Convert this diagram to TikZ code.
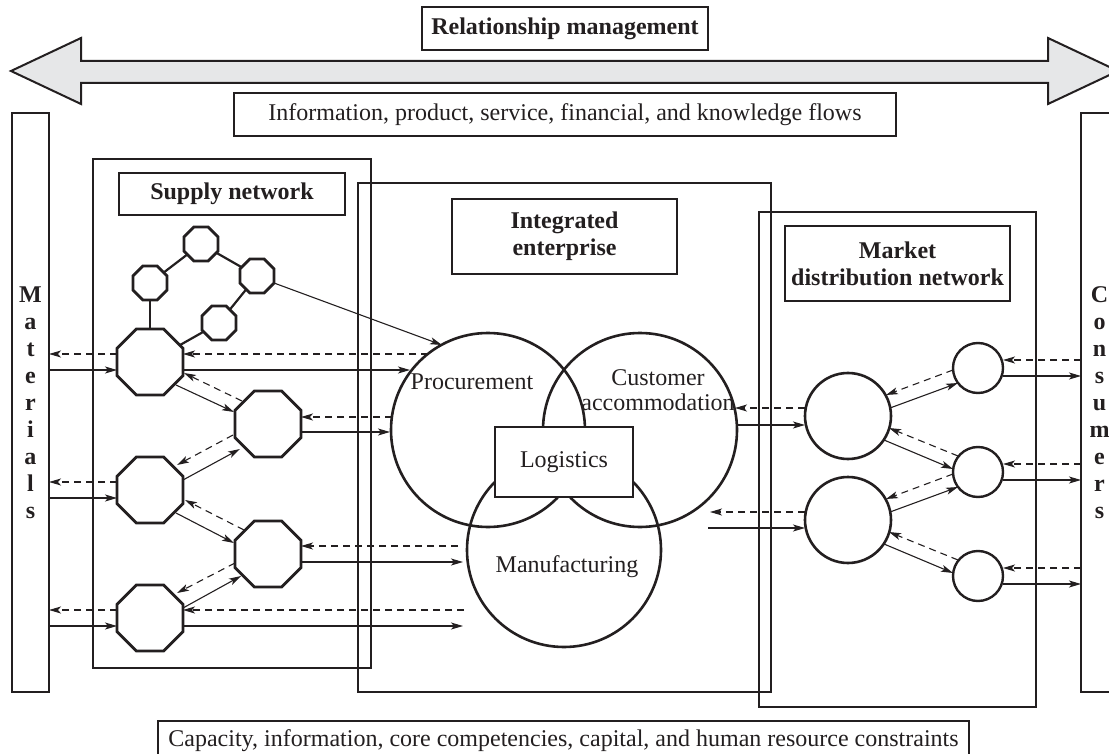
\documentclass[tikz,border=0pt]{standalone}
\usepackage{fontspec}
\setmainfont{Liberation Serif}
\usetikzlibrary{arrows.meta,calc,shapes.geometric}
\definecolor{ink}{HTML}{231F20}
\definecolor{band}{HTML}{E6E7E8}
\begin{document}
\begin{tikzpicture}[x=1pt,y=-1pt,
  every node/.style={text=ink},
  frame/.style={draw=ink, line width=2.6pt, inner sep=0pt, outer sep=0pt},
  lbl/.style={frame, fill=white, font=\fontsize{24}{27}\selectfont\bfseries, align=center},
  txtbox/.style={frame, fill=white, font=\fontsize{24}{27}\selectfont, align=center},
  plain/.style={font=\fontsize{24}{25}\selectfont, align=center, inner sep=0pt},
  ring/.style={circle, draw=ink, line width=2.6pt, inner sep=0pt, outer sep=0pt},
  oct/.style={regular polygon, regular polygon sides=8, draw=ink, line width=2.8pt, fill=white, inner sep=0pt, outer sep=0pt},
  bigoct/.style={oct, minimum size=71.4pt},
  smalloct/.style={oct, minimum size=36.8pt},
  link/.style={draw=ink, line width=2.2pt},
  sol/.style={draw=ink, line width=1.1pt, -{Stealth[length=12pt,width=7pt,inset=3pt]}},
  dsh/.style={sol, dash pattern=on 7pt off 5pt},
]
\useasboundingbox (0,0) rectangle (1109,754);
\clip (0,0) rectangle (1109,754);

% big double arrow
\draw[draw=ink, fill=band, line width=2pt, line join=miter]
  (11,71) -- (81,38) -- (81,61) -- (1048,61) -- (1048,38) -- (1118,71)
  -- (1048,104) -- (1048,83) -- (81,83) -- (81,104) -- cycle;

% top and bottom labels
\node[lbl, minimum width=286pt, minimum height=43pt] (rel) at (565,28.5) {Relationship management};
\node[txtbox, minimum width=662pt, minimum height=43pt] (flows) at (565,114.5) {Information, product, service, financial, and knowledge flows};
\node[txtbox, minimum width=811pt, minimum height=39pt] (constr) at (563.5,740.5) {Capacity, information, core competencies, capital, and human resource constraints};

% side bars
\node[lbl, fill=none, minimum width=37pt, minimum height=579pt] (mat) at (30.5,402.5) {M\\a\\t\\e\\r\\i\\a\\l\\s};
\node[lbl, fill=none, minimum width=37pt, minimum height=579pt] (con) at (1099.5,402.5) {C\\o\\n\\s\\u\\m\\e\\r\\s};

% regions
\node[frame, minimum width=278pt, minimum height=509pt] (sup) at (232,413.5) {};
\node[frame, minimum width=413pt, minimum height=509pt] (ent) at (564.5,437.5) {};
\node[frame, minimum width=277pt, minimum height=495pt] (mkt) at (897.5,459.5) {};

\node[lbl, minimum width=226pt, minimum height=42pt] (supl) at (232,194) {Supply network};
\node[lbl, minimum width=225pt, minimum height=75pt] (entl) at (564.5,236.5) {Integrated\\enterprise};
\node[lbl, minimum width=225pt, minimum height=75pt] (mktl) at (897.5,263.5) {Market\\distribution network};

% integrated enterprise circles
\node[ring, minimum size=194pt] (proc) at (488,430) {};
\node[ring, minimum size=194pt] (cust) at (640,430) {};
\node[ring, minimum size=194pt] (manu) at (564,550) {};
\node[plain] (procl) at (472,382) {Procurement};
\node[plain] (custl) at (658,390) {Customer\\accommodation};
\node[plain] (manul) at (567,567) {Manufacturing};
\node[txtbox, minimum width=138pt, minimum height=70pt] (log) at (564,462) {Logistics};

% supply network octagons
\node[smalloct] (Oa) at (201,244) {};
\node[smalloct] (Ob) at (150,283) {};
\node[smalloct] (Oc) at (257,276) {};
\node[smalloct] (Od) at (219,323) {};
\node[bigoct] (L1) at (150,362) {};
\node[bigoct] (L2) at (268,424) {};
\node[bigoct] (L3) at (150,490) {};
\node[bigoct] (L4) at (268,554) {};
\node[bigoct] (L5) at (150,618) {};

\draw[link] (Ob) -- (Oa);
\draw[link] (Oa) -- (Oc);
\draw[link] (Oc) -- (Od);
\draw[link] (Ob) -- (L1);
\draw[link] (Od) -- (L1);

% market circles
\node[ring, minimum size=86pt] (M1) at (848,416) {};
\node[ring, minimum size=86pt] (M2) at (848,520) {};
\node[ring, line width=2.4pt, minimum size=50pt] (S1) at (978,368) {};
\node[ring, line width=2.4pt, minimum size=50pt] (S2) at (978,472) {};
\node[ring, line width=2.4pt, minimum size=50pt] (S3) at (978,576) {};

% free ends
\coordinate (pc0) at (442,345);
\coordinate (pc1) at (428,354);
\coordinate (pc2) at (410,370);
\coordinate (pc3) at (392,417);
\coordinate (pc4) at (390,432);
\coordinate (mf1) at (458,546);
\coordinate (mf2) at (463,562);
\coordinate (mf3) at (464,610);
\coordinate (mf4) at (463,626);
\coordinate (cu1) at (735,408);
\coordinate (cu2) at (737,425);
\coordinate (cu3) at (710,512);
\coordinate (cu4) at (708,528);

% supply side arrows
\draw[sol] (Oc.east |- 0,283) -- (pc0);
\draw[dsh] (L1.west |- 0,354) -- (mat.east |- 0,354);
\draw[sol] (mat.east |- 0,370) -- (L1.west |- 0,370);
\draw[dsh] (pc1) -- (L1.east |- 0,354);
\draw[sol] (L1.east |- 0,370) -- (pc2);
\draw[dsh] (pc3) -- (L2.east |- 0,417);
\draw[sol] (L2.east |- 0,432) -- (pc4);
\draw[dsh] (L3.west |- 0,482) -- (mat.east |- 0,482);
\draw[sol] (mat.east |- 0,498) -- (L3.west |- 0,498);
\draw[dsh] (mf1) -- (L4.east |- 0,546);
\draw[sol] (L4.east |- 0,562) -- (mf2);
\draw[dsh] (L5.west |- 0,610) -- (mat.east |- 0,610);
\draw[sol] (mat.east |- 0,626) -- (L5.west |- 0,626);
\draw[dsh] (mf3) -- (L5.east |- 0,610);
\draw[sol] (L5.east |- 0,626) -- (mf4);

\draw[sol] ($(L1)+(26,23)$) -- ($(L2)+(-34,-12)$);
\draw[dsh] ($(L2)+(-26,-23)$) -- ($(L1)+(34,11)$);
\draw[sol] ($(L3)+(33,-10)$) -- ($(L2)+(-28,25)$);
\draw[dsh] ($(L2)+(-35,11)$) -- ($(L3)+(27,-25)$);
\draw[sol] ($(L3)+(26,23)$) -- ($(L4)+(-34,-11)$);
\draw[dsh] ($(L4)+(-24,-24)$) -- ($(L3)+(35,10)$);
\draw[sol] ($(L5)+(33,-10)$) -- ($(L4)+(-27,22)$);
\draw[dsh] ($(L4)+(-33,9)$) -- ($(L5)+(27,-25)$);

% market side arrows
\draw[dsh] (M1.west |- 0,408) -- (cu1);
\draw[sol] (cu2) -- (M1.west |- 0,425);
\draw[dsh] (M2.west |- 0,512) -- (cu3);
\draw[sol] (cu4) -- (M2.west |- 0,528);

\draw[sol] ($(M1)+(42,-8)$) -- ($(S1)+(-20,15)$);
\draw[dsh] ($(S1)+(-25,2)$) -- ($(M1)+(38,-21)$);
\draw[sol] ($(M1)+(36,24)$) -- ($(S2)+(-25,-3)$);
\draw[dsh] ($(S2)+(-20,-16)$) -- ($(M1)+(41,12)$);
\draw[sol] ($(M2)+(42,-8)$) -- ($(S2)+(-20,15)$);
\draw[dsh] ($(S2)+(-25,2)$) -- ($(M2)+(38,-21)$);
\draw[sol] ($(M2)+(36,24)$) -- ($(S3)+(-25,-3)$);
\draw[dsh] ($(S3)+(-20,-16)$) -- ($(M2)+(41,12)$);

\draw[dsh] (con.west |- 0,360) -- (S1.east |- 0,360);
\draw[sol] (S1.east |- 0,376) -- (con.west |- 0,376);
\draw[dsh] (con.west |- 0,464) -- (S2.east |- 0,464);
\draw[sol] (S2.east |- 0,480) -- (con.west |- 0,480);
\draw[dsh] (con.west |- 0,568) -- (S3.east |- 0,568);
\draw[sol] (S3.east |- 0,584) -- (con.west |- 0,584);
\end{tikzpicture}
\end{document}
